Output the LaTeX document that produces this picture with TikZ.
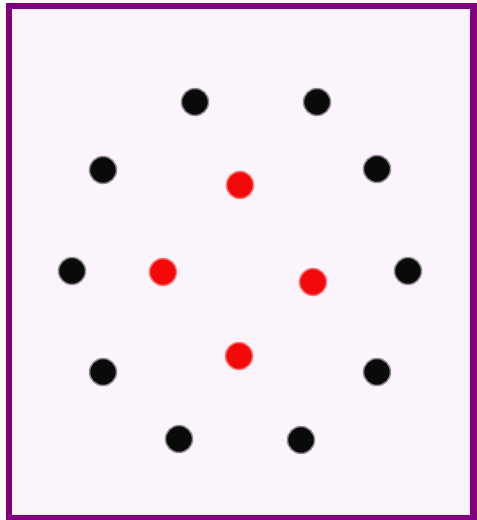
\documentclass[tikz,border=0pt]{standalone}
\definecolor{frame}{HTML}{800080}
\definecolor{bg}{HTML}{FCF4FC}
\definecolor{dotred}{HTML}{F20A0A}
\definecolor{dotblk}{HTML}{0A0A0A}
\begin{document}
\begin{tikzpicture}[x=1pt,y=-1pt,
  blackdot/.style={circle,fill=dotblk,draw=black!45,line width=1.5pt,minimum size=27pt,inner sep=0pt},
  reddot/.style={circle,fill=dotred,draw=red!55,line width=1.5pt,minimum size=27pt,inner sep=0pt}]
\useasboundingbox (0,0) rectangle (477,520);
\fill[white] (0,0) rectangle (477,520);
\fill[frame] (6,2.5) rectangle (477,520);
\fill[bg] (12,9) rectangle (470,515);
% outer ring of black dots
\node[blackdot] (b1) at (195,102) {};
\node[blackdot] (b2) at (317,102) {};
\node[blackdot] (b3) at (103,170) {};
\node[blackdot] (b4) at (377,169) {};
\node[blackdot] (b5) at (72,271) {};
\node[blackdot] (b6) at (408,271) {};
\node[blackdot] (b7) at (103,372) {};
\node[blackdot] (b8) at (377,372) {};
\node[blackdot] (b9) at (179,439) {};
\node[blackdot] (b10) at (301,440) {};
% inner red dots
\node[reddot] (r1) at (240,185) {};
\node[reddot] (r2) at (163,272) {};
\node[reddot] (r3) at (313,282) {};
\node[reddot] (r4) at (239,356) {};
\end{tikzpicture}
\end{document}
